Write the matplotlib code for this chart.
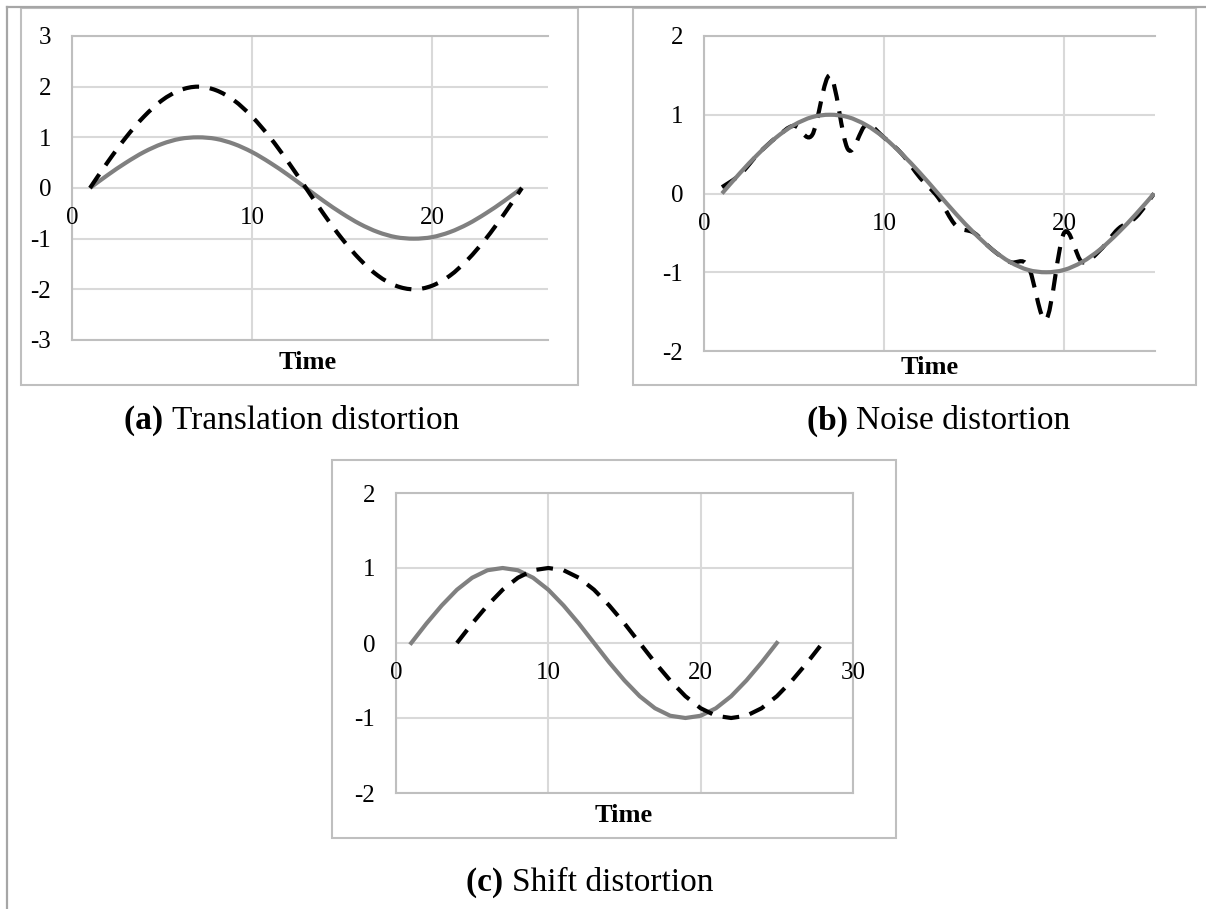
import numpy as np
import matplotlib.pyplot as plt
from matplotlib.path import Path
from matplotlib.patches import PathPatch, Rectangle
from matplotlib.lines import Line2D

plt.rcParams['font.family'] = ['Liberation Serif', 'DejaVu Serif']
plt.rcParams['axes.unicode_minus'] = False

# time index and the reference sine wave
t = [1, 2, 3, 4, 5, 6, 7, 8, 9, 10, 11, 12, 13,
     14, 15, 16, 17, 18, 19, 20, 21, 22, 23, 24, 25]
base = [0, 0.26, 0.5, 0.71, 0.87, 0.97, 1, 0.97, 0.87, 0.71, 0.5, 0.26, 0,
        -0.26, -0.5, -0.71, -0.87, -0.97, -1, -0.97, -0.87, -0.71, -0.5, -0.26, 0]

# (a) amplitude doubled
translated = [0, 0.52, 1.0, 1.41, 1.73, 1.93, 2, 1.93, 1.73, 1.41, 1.0, 0.52, 0,
              -0.52, -1.0, -1.41, -1.73, -1.93, -2, -1.93, -1.73, -1.41, -1.0, -0.52, 0]

# (b) noisy copy
noisy = [0.08, 0.24, 0.5, 0.71, 0.86, 0.74, 1.5, 0.56, 0.87, 0.71, 0.5, 0.2, -0.05,
         -0.41, -0.5, -0.71, -0.87, -0.92, -1.6, -0.5, -0.87, -0.72, -0.45, -0.3, 0]

# (c) same wave shifted by three steps
t_shift = [4, 5, 6, 7, 8, 9, 10, 11, 12, 13, 14, 15, 16,
           17, 18, 19, 20, 21, 22, 23, 24, 25, 26, 27, 28]
shifted = base

captions = [('(a)', 'Translation distortion'),
            ('(b)', 'Noise distortion'),
            ('(c)', 'Shift distortion')]

W, H = 1206, 909
GREY = '#808080'
GRID = '#d9d9d9'
EDGE = '#bfbfbf'
DASH = (0, (4, 2.6))
TICK_FS = 18
LW = 3.0

fig = plt.figure(figsize=(W / 100, H / 100), dpi=100)


def px_axes(left, top, right, bottom):
    return fig.add_axes([left / W, 1 - bottom / H, (right - left) / W, (bottom - top) / H])


def smooth(ax, xs, ys, **kw):
    # cubic bezier through the points, like a smoothed spreadsheet line
    pts = np.column_stack([xs, ys]).astype(float)
    verts = [pts[0]]
    codes = [Path.MOVETO]
    n = len(pts)
    for i in range(n - 1):
        p0 = pts[i - 1] if i > 0 else pts[i]
        p1, p2 = pts[i], pts[i + 1]
        p3 = pts[i + 2] if i + 2 < n else p2
        verts += [p1 + (p2 - p0) / 6, p2 - (p3 - p1) / 6, p2]
        codes += [Path.CURVE4] * 3
    ax.add_patch(PathPatch(Path(verts, codes), fill=False, **kw))


def style(ax, xmax, ylo, yhi, right_edge=False):
    ax.set_xlim(0, xmax)
    ax.set_ylim(ylo, yhi)
    xt = [v for v in (0, 10, 20, 30) if v <= xmax]
    ax.set_xticks(xt)
    ax.set_yticks(range(ylo, yhi + 1))
    ax.grid(True, color=GRID, lw=1.5)
    ax.set_axisbelow(True)
    ax.tick_params(axis='both', length=0)
    ax.tick_params(axis='y', labelsize=TICK_FS, pad=15)
    ax.tick_params(axis='x', labelbottom=False)
    for side in ('left', 'top', 'bottom', 'right'):
        ax.spines[side].set_color(EDGE)
        ax.spines[side].set_linewidth(1.5)
    ax.spines['right'].set_visible(right_edge)
    # x labels sit under the zero line
    for v in xt:
        ax.annotate(str(v), xy=(v, 0), xytext=(0, -30), textcoords='offset pixels',
                    ha='center', va='center', fontsize=TICK_FS, annotation_clip=False)


def box(left, top, right, bottom):
    fig.add_artist(Rectangle((left / W, 1 - bottom / H), (right - left) / W, (bottom - top) / H,
                             transform=fig.transFigure, fill=False, ec=EDGE, lw=1.5))


def caption(x, y, tag, text):
    fig.text(x / W, 1 - y / H, tag + ' ', fontsize=24, fontweight='bold', ha='right', va='center')
    fig.text(x / W, 1 - y / H, text, fontsize=24, ha='left', va='center')


# page frame
fig.add_artist(Line2D([7 / W, 1], [1 - 7 / H, 1 - 7 / H], transform=fig.transFigure, color='#a6a6a6', lw=1.6))
fig.add_artist(Line2D([7 / W, 7 / W], [0, 1 - 7 / H], transform=fig.transFigure, color='#a6a6a6', lw=1.6))

# (a)
box(21, 8, 578, 385)
ax_a = px_axes(72, 36, 548, 340)
style(ax_a, 26.45, -3, 3)
smooth(ax_a, t, base, ec=GREY, lw=LW, zorder=3)
smooth(ax_a, t, translated, ec='black', lw=LW, ls=DASH, capstyle='butt', zorder=4)
fig.text(308 / W, 1 - 362 / H, 'Time', fontsize=19, fontweight='bold', ha='center', va='center')

# (b)
box(633, 8, 1196, 385)
ax_b = px_axes(704, 36, 1155, 351)
style(ax_b, 25.05, -2, 2)
smooth(ax_b, t, noisy, ec='black', lw=LW, ls=DASH, capstyle='butt', zorder=3)
smooth(ax_b, t, base, ec=GREY, lw=LW, zorder=4)
fig.text(930 / W, 1 - 367 / H, 'Time', fontsize=19, fontweight='bold', ha='center', va='center')

# (c)
box(332, 460, 896, 838)
ax_c = px_axes(396, 493, 853, 793)
style(ax_c, 30, -2, 2, right_edge=True)
ax_c.plot(t, base, color=GREY, lw=LW, zorder=3)
ax_c.plot(t_shift, shifted, color='black', lw=LW, ls=DASH, dash_capstyle='butt', zorder=4)
fig.text(624 / W, 1 - 815 / H, 'Time', fontsize=19, fontweight='bold', ha='center', va='center')

caption(172, 421, *captions[0])
caption(856, 421, *captions[1])
caption(512, 883, *captions[2])

fig.savefig('out.png', dpi=100)
